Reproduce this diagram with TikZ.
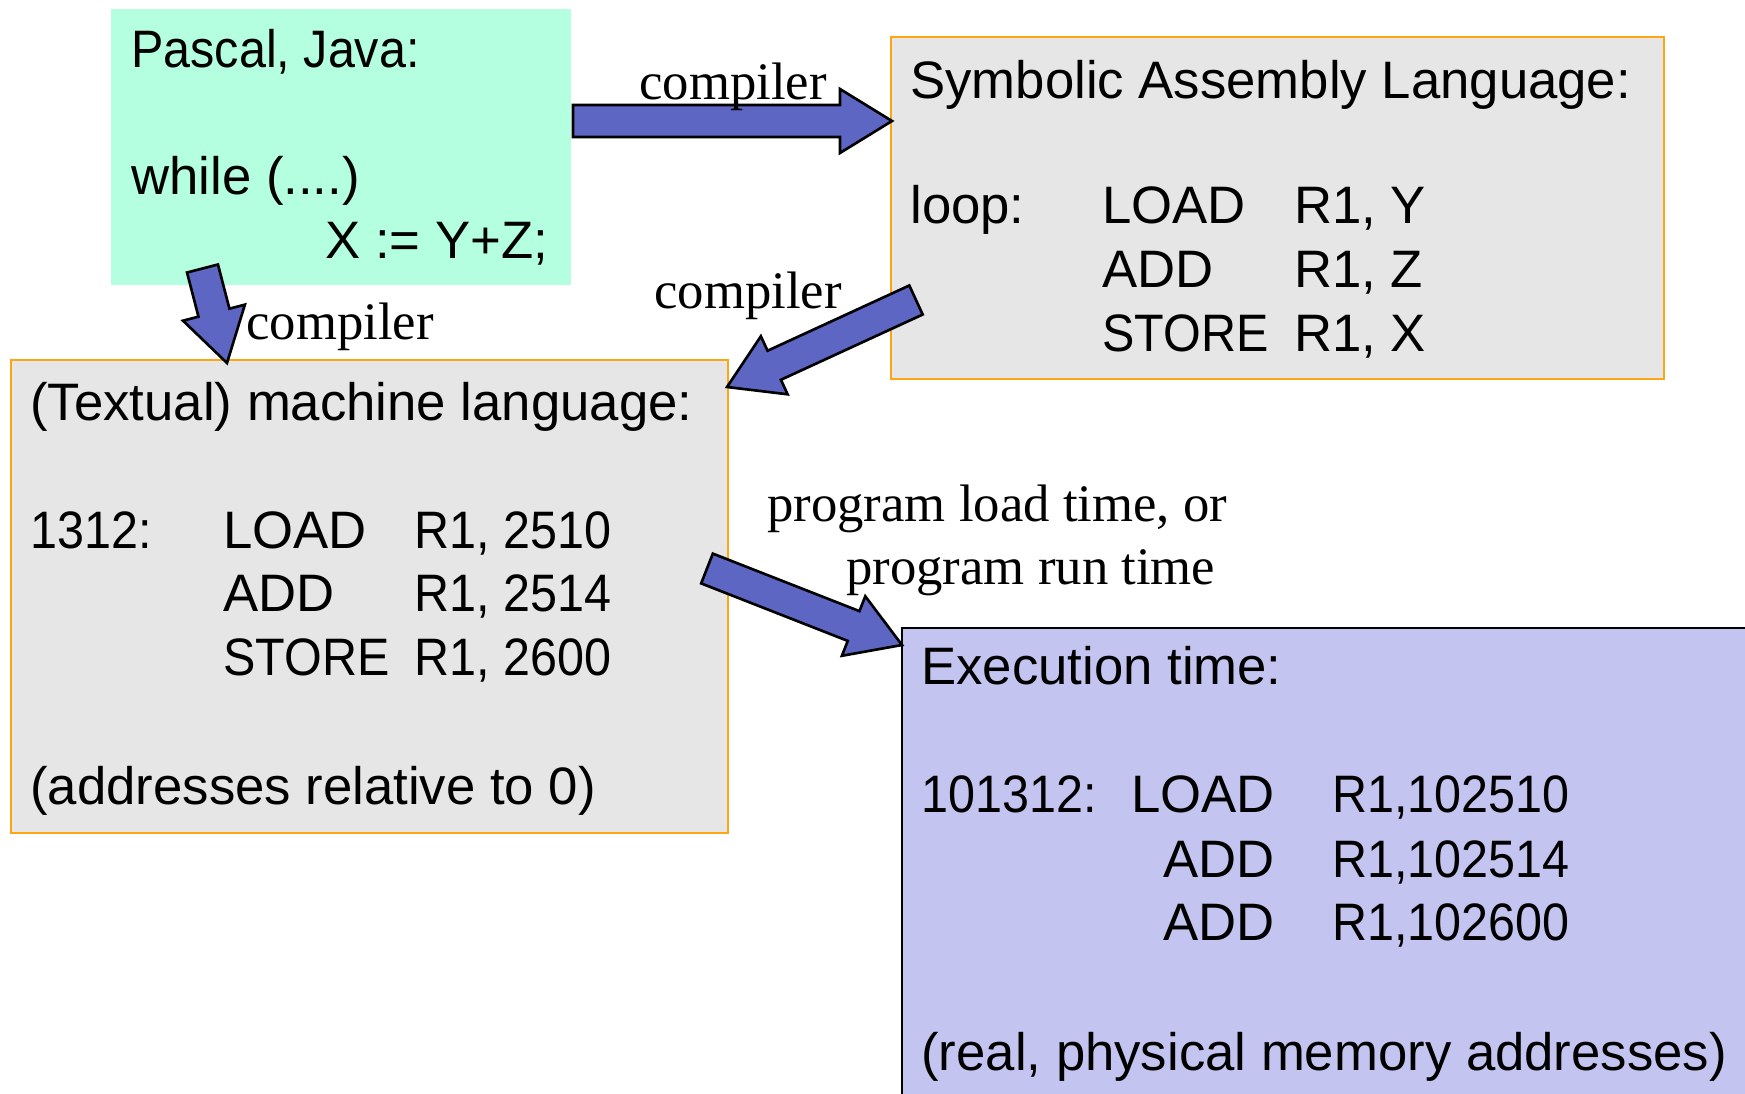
\documentclass[tikz,border=0pt]{standalone}
\usepackage{fontspec}
\setmainfont{Liberation Serif}
\setsansfont{Liberation Sans}
\newfontfamily\narrowsans[FakeStretch=0.92]{Liberation Sans}
\usetikzlibrary{calc}
\definecolor{srcgreen}{RGB}{179,255,224}
\definecolor{boxgray}{RGB}{230,230,230}
\definecolor{boxorange}{RGB}{255,165,20}
\definecolor{execpurple}{RGB}{196,196,240}
\definecolor{arrowblue}{RGB}{94,102,196}
\tikzset{
  srcbox/.style={fill=srcgreen, draw=none, anchor=north west, inner sep=0pt},
  graybox/.style={fill=boxgray, draw=boxorange, line width=1.4pt, anchor=north west, inner sep=0pt},
  execbox/.style={fill=execpurple, draw=black, line width=1.1pt, anchor=north west, inner sep=0pt},
  codetext/.style={font=\sffamily\fontsize{30}{36}\selectfont, anchor=base west, inner sep=0pt},
  codenarrow/.style={font=\narrowsans\fontsize{30}{36}\selectfont, anchor=base west, inner sep=0pt},
  codenarrowr/.style={font=\narrowsans\fontsize{30}{36}\selectfont, anchor=base east, inner sep=0pt},
  codetextr/.style={font=\sffamily\fontsize{30}{36}\selectfont, anchor=base east, inner sep=0pt},
  lbltext/.style={font=\rmfamily\fontsize{30}{36}\selectfont, anchor=base west, inner sep=0pt},
  blockarrow/.style={fill=arrowblue, draw=black, line width=1.5pt, line join=miter}
}
% #1 tail coordinate name, #2 tip coordinate name
\newcommand{\blockarr}[2]{%
  \coordinate (#1h) at ($(#2)!29.6pt!(#1)$);
  \draw[blockarrow]
    ($(#1)!9.1pt!90:(#2)$) -- ($(#1h)!9.1pt!90:(#2)$) -- ($(#1h)!18.2pt!90:(#2)$) --
    (#2) -- ($(#1h)!18.2pt!-90:(#2)$) -- ($(#1h)!9.1pt!-90:(#2)$) --
    ($(#1)!9.1pt!-90:(#2)$) -- cycle;}
\begin{document}
\begin{tikzpicture}[x=0.02cm, y=-0.02cm]
\useasboundingbox (0,0) rectangle (1745,1093);
\clip (0,0) rectangle (1745,1093);
% boxes
\node[srcbox, minimum width=9.2cm, minimum height=5.52cm] (src) at (111,9) {};
\node[graybox, minimum width=15.46cm, minimum height=6.84cm] (asm) at (890,36) {};
\node[graybox, minimum width=14.34cm, minimum height=9.46cm] (mach) at (10,359) {};
\node[execbox, minimum width=18cm, minimum height=10cm] (exec) at (901,627) {};
% arrow end points
\coordinate (a1t) at (573,121);
\coordinate (a1p) at (892,121);
\coordinate (a2t) at (202.5,268.5);
\coordinate (a2p) at (227,363);
\coordinate (a3t) at (916,300);
\coordinate (a3p) at (727,387);
\coordinate (a4t) at (707,568.5);
\coordinate (a4p) at (902,645);
\blockarr{a1t}{a1p}
\blockarr{a2t}{a2p}
\blockarr{a3t}{a3p}
\blockarr{a4t}{a4p}
% source box text
\node[codenarrow] (s1) at (131,67) {Pascal, Java:};
\node[codetext] (s2) at (131,194) {while (....)};
\node[codetext] (s3) at (325,258) {X := Y+Z;};
% assembly box text
\node[codetext] (y1) at (910,98) {Symbolic Assembly Language:};
\node[codetext] (y2) at (910,223) {loop:};
\node[codetext] (y3) at (1102,223) {LOAD};
\node[codetext] (y4) at (1294,223) {R1, Y};
\node[codetext] (y5) at (1102,287) {ADD};
\node[codetext] (y6) at (1294,287) {R1, Z};
\node[codenarrow] (y7) at (1102,351) {STORE};
\node[codetext] (y8) at (1294,351) {R1, X};
% machine box text
\node[codetext] (m1) at (30,420) {(Textual) machine language:};
\node[codenarrow] (m2) at (30,548) {1312:};
\node[codetext] (m3) at (223,548) {LOAD};
\node[codenarrow] (m4) at (414,548) {R1, 2510};
\node[codetext] (m5) at (223,611) {ADD};
\node[codenarrow] (m6) at (414,611) {R1, 2514};
\node[codenarrow] (m7) at (223,675) {STORE};
\node[codenarrow] (m8) at (414,675) {R1, 2600};
\node[codetext] (m9) at (30,804) {(addresses relative to 0)};
% execution box text
\node[codetext] (e1) at (921,684) {Execution time:};
\node[codenarrow] (e2) at (921,812) {101312:};
\node[codetextr] (e3) at (1275,812) {LOAD};
\node[codenarrow] (e4) at (1332,812) {R1,102510};
\node[codetextr] (e5) at (1275,877) {ADD};
\node[codenarrow] (e6) at (1332,877) {R1,102514};
\node[codetextr] (e7) at (1275,940) {ADD};
\node[codenarrow] (e8) at (1332,940) {R1,102600};
\node[codetext] (e9) at (921,1070) {(real, physical memory addresses)};
% labels
\node[lbltext] (l1) at (639,99) {compiler};
\node[lbltext] (l2) at (246,339) {compiler};
\node[lbltext] (l3) at (654,308) {compiler};
\node[lbltext] (l4) at (767,521) {program load time, or};
\node[lbltext] (l5) at (846,584) {program run time};
\end{tikzpicture}
\end{document}
